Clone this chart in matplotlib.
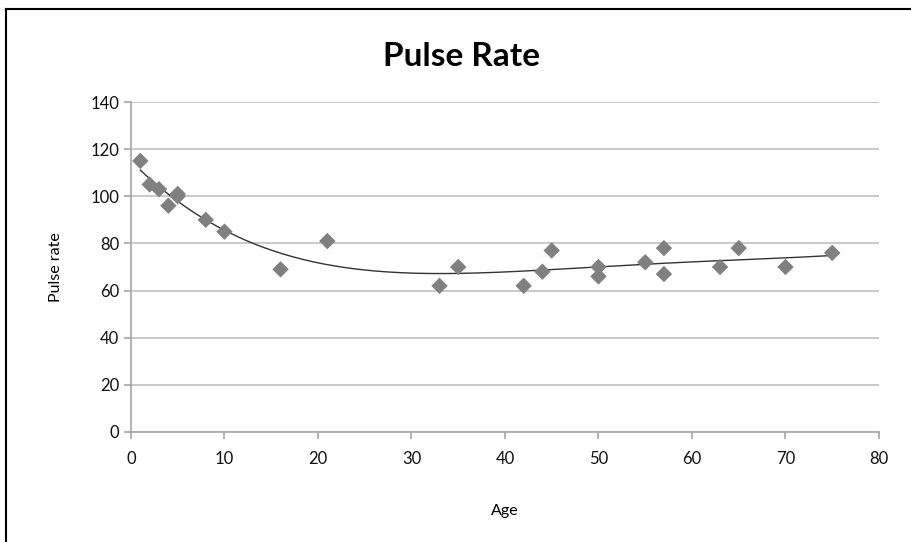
import numpy as np
import matplotlib
matplotlib.use("Agg")
import matplotlib.pyplot as plt
from matplotlib.lines import Line2D

# Age vs pulse rate readings
ages = [1, 2, 3, 4, 5, 5, 8, 10, 16, 21, 33, 35, 42, 44, 45, 50, 50, 55, 57, 57, 63, 65, 70, 75]
pulse = [115, 105, 103, 96, 101, 100, 90, 85, 69, 81, 62, 70, 62, 68, 77, 70, 66, 72, 78, 67, 70, 78, 70, 76]

x_ticks = [0, 10, 20, 30, 40, 50, 60, 70, 80]
y_ticks = [0, 20, 40, 60, 80, 100, 120, 140]

plt.rcParams['font.family'] = ['Lato', 'DejaVu Sans']

fig = plt.figure(figsize=(9.12, 5.42), dpi=100)
ax = fig.add_axes([0.1436, 0.203, 0.8202, 0.6088])

# polynomial trendline (order 4), like the spreadsheet one
coef = np.polyfit(ages, pulse, 4)
xs = np.linspace(min(ages), max(ages), 200)
ax.plot(xs, np.polyval(coef, xs), color='#333333', lw=1.0, zorder=2)

ax.scatter(ages, pulse, marker='D', s=70, color='#808080', edgecolor='none', zorder=3)

ax.set_xlim(0, 80)
ax.set_ylim(0, 140)
ax.set_xticks(x_ticks)
ax.set_yticks(y_ticks)
ax.grid(axis='y', color='#c0c0c0', lw=1.2)
ax.set_axisbelow(True)

for side in ['top', 'right']:
    ax.spines[side].set_visible(False)
for side in ['left', 'bottom']:
    ax.spines[side].set_color('#a6a6a6')
    ax.spines[side].set_linewidth(1.2)
ax.tick_params(colors='#a6a6a6', length=5, width=1.2, labelcolor='#111111', labelsize=12)
ax.tick_params(axis='x', pad=9)

fig.text(0.506, 0.895, 'Pulse Rate', fontsize=24, fontweight='bold', ha='center', va='center')
ax.set_xlabel('Age', fontsize=11.5, labelpad=26)
ax.set_ylabel('Pulse rate', fontsize=11.5, labelpad=20)

# chart frame: top and left edge only
fig.add_artist(Line2D([0.0066, 1.0], [0.983, 0.983], color='black', lw=1.5, transform=fig.transFigure))
fig.add_artist(Line2D([0.0066, 0.0066], [0.0, 0.983], color='black', lw=1.5, transform=fig.transFigure))

fig.savefig('out.png', dpi=100)
